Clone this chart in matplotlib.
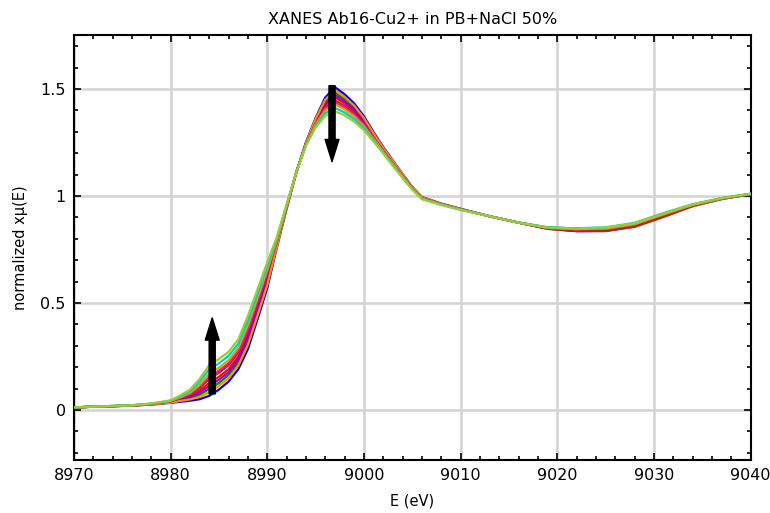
import matplotlib
matplotlib.use("Agg")
import matplotlib.pyplot as plt
from matplotlib.ticker import MultipleLocator, FixedLocator

energy = [8970, 8973, 8976, 8978, 8980, 8981, 8982, 8983, 8984, 8985, 8986, 8987,
          8988, 8989, 8990, 8991, 8992, 8993, 8994, 8995, 8996, 8997, 8998, 8999,
          9000, 9001, 9002, 9003, 9004, 9005, 9006, 9008, 9010, 9013, 9016, 9019,
          9022, 9025, 9028, 9031, 9034, 9037, 9040]

scan_01 = [.012, .016, .020, .025, .033, .038, .043, .050, .066, .095, .133, .190,
           .285, .425, .570, .760, .940, 1.110, 1.250, 1.365, 1.460, 1.508, 1.475, 1.432,
           1.372, 1.298, 1.228, 1.165, 1.103, 1.042, .995, .964, .940, .905, .875, .848,
           .836, .836, .857, .905, .952, .985, 1.008]
scan_02 = [.012, .016, .021, .027, .038, .051, .065, .090, .126, .155, .191, .249,
           .350, .484, .620, .781, .948, 1.110, 1.244, 1.346, 1.424, 1.461, 1.432, 1.396,
           1.345, 1.279, 1.215, 1.155, 1.096, 1.038, .991, .962, .938, .905, .875, .850,
           .842, .844, .864, .910, .955, .987, 1.009]
scan_03 = [.012, .016, .020, .026, .036, .045, .054, .071, .098, .126, .164, .221,
           .319, .456, .596, .771, .944, 1.110, 1.247, 1.355, 1.441, 1.483, 1.452, 1.413,
           1.358, 1.288, 1.221, 1.160, 1.100, 1.041, .993, .963, .939, .905, .876, .853,
           .848, .850, .866, .910, .954, .986, 1.008]
scan_04 = [.012, .016, .021, .027, .037, .048, .060, .080, .112, .141, .177, .235,
           .335, .470, .608, .776, .946, 1.110, 1.245, 1.351, 1.433, 1.472, 1.442, 1.405,
           1.351, 1.283, 1.218, 1.157, 1.098, 1.039, .992, .963, .938, .905, .875, .847,
           .836, .837, .860, .908, .955, .987, 1.009]
scan_05 = [.012, .016, .020, .026, .034, .042, .049, .061, .083, .112, .150, .207,
           .304, .442, .584, .766, .942, 1.110, 1.248, 1.360, 1.450, 1.494, 1.462, 1.422,
           1.364, 1.292, 1.224, 1.162, 1.102, 1.042, .994, .963, .939, .905, .875, .848,
           .839, .838, .855, .902, .951, .986, 1.008]
scan_06 = [.012, .017, .021, .028, .040, .055, .072, .102, .145, .174, .209, .267,
           .370, .502, .636, .788, .951, 1.110, 1.242, 1.340, 1.413, 1.446, 1.420, 1.385,
           1.336, 1.273, 1.212, 1.151, 1.093, 1.036, .990, .961, .937, .905, .875, .846,
           .835, .836, .856, .902, .953, .988, 1.009]
scan_07 = [.012, .017, .021, .028, .040, .057, .075, .109, .155, .184, .219, .277,
           .381, .512, .644, .791, .952, 1.110, 1.241, 1.337, 1.407, 1.438, 1.413, 1.379,
           1.332, 1.270, 1.209, 1.150, 1.092, 1.035, .989, .961, .937, .905, .875, .850,
           .844, .847, .867, .913, .957, .988, 1.009]
scan_08 = [.012, .017, .021, .029, .042, .060, .080, .118, .170, .198, .233, .291,
           .397, .526, .656, .796, .954, 1.110, 1.239, 1.333, 1.399, 1.427, 1.404, 1.371,
           1.325, 1.266, 1.206, 1.147, 1.090, 1.033, .988, .960, .936, .905, .875, .851,
           .845, .848, .868, .914, .958, .989, 1.009]
scan_09 = [.012, .017, .022, .029, .043, .064, .088, .132, .190, .218, .253, .310,
           .418, .545, .673, .803, .957, 1.110, 1.237, 1.326, 1.387, 1.411, 1.390, 1.359,
           1.316, 1.260, 1.202, 1.144, 1.087, 1.031, .986, .959, .936, .905, .875, .852,
           .849, .853, .874, .920, .961, .990, 1.010]
scan_10 = [.012, .017, .022, .030, .045, .068, .095, .145, .210, .238, .272, .330,
           .440, .565, .690, .810, .960, 1.110, 1.235, 1.320, 1.375, 1.395, 1.377, 1.347,
           1.307, 1.254, 1.198, 1.140, 1.084, 1.029, .985, .958, .935, .905, .875, .852,
           .848, .852, .872, .918, .960, .990, 1.010]

scans = [scan_01, scan_02, scan_03, scan_04, scan_05,
         scan_06, scan_07, scan_08, scan_09, scan_10]
colors = ["blue", "red", "#008b00", "darkviolet", "darkorange",
          "#a52a2a", "deeppink", "#cdad00", "#00cdcd", "yellowgreen"]

x_ticks = [8970, 8980, 8990, 9000, 9010, 9020, 9030, 9040]
y_ticks = [0, 0.5, 1, 1.5]
y_ticklabels = ["0", "0.5", "1", "1.5"]

# arrows (tail, tip) in data units
arrow_up = ((8984.3, 0.075), (8984.3, 0.43))
arrow_down = ((8996.7, 1.515), (8996.7, 1.16))

fig = plt.figure(figsize=(7.7, 5.13), dpi=100)
ax = fig.add_axes([0.0961, 0.1033, 0.8786, 0.8285])

for y, c in zip(scans, colors):
    ax.plot(energy, y, color=c, lw=1.6, zorder=3)

for tail, tip in (arrow_up, arrow_down):
    ax.annotate("", xy=tip, xytext=tail,
                arrowprops=dict(arrowstyle="simple,head_width=0.5,head_length=0.8,tail_width=0.22",
                                color="black", shrinkA=0, shrinkB=0, mutation_scale=20),
                zorder=5)

ax.set_xlim(8970, 9040)
ax.set_ylim(-0.234, 1.752)
ax.xaxis.set_major_locator(FixedLocator(x_ticks))
ax.xaxis.set_minor_locator(MultipleLocator(2))
ax.yaxis.set_major_locator(FixedLocator(y_ticks))
ax.set_yticklabels(y_ticklabels)
ax.yaxis.set_minor_locator(MultipleLocator(0.1))
ax.tick_params(which="both", direction="in", top=True, right=True, labelsize=11.5, width=1.2)
ax.tick_params(which="major", length=5, pad=6)
ax.tick_params(which="minor", length=3)
ax.grid(True, which="major", color="#d3d3d3", lw=1.8, zorder=0)
ax.set_axisbelow(True)
for s in ax.spines.values():
    s.set_linewidth(1.5)

ax.set_title("XANES Ab16-Cu2+ in PB+NaCl 50%", fontsize=11.5, pad=8)
ax.set_xlabel("E (eV)", fontsize=10.5, labelpad=7)
ax.set_ylabel("normalized x\u03bc(E)", fontsize=10.5, labelpad=9)

fig.savefig("out.png", dpi=100)
